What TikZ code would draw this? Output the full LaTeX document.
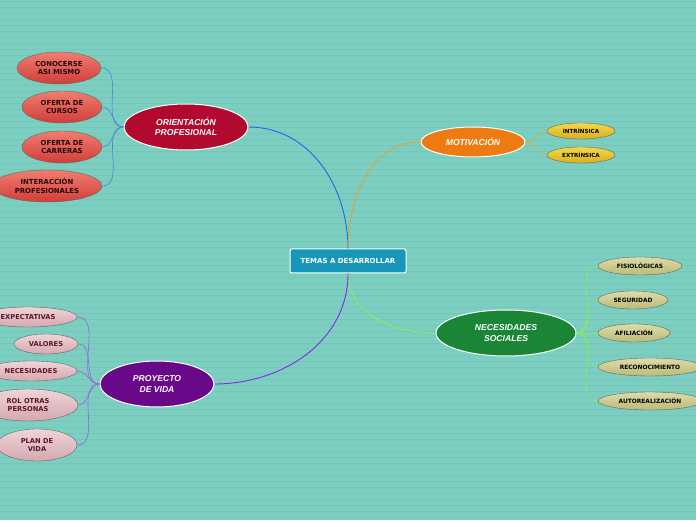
\documentclass[tikz,border=0pt]{standalone}
\usepackage{fontspec}
\setsansfont{DejaVu Sans}
\newfontfamily\arialfont{Liberation Sans}
\usetikzlibrary{shapes.geometric}

\definecolor{bgteal}{RGB}{124,206,192}
\definecolor{bgline}{RGB}{116,199,185}
\definecolor{rootfill}{RGB}{24,150,185}
\definecolor{orientfill}{RGB}{178,10,46}
\definecolor{motivfill}{RGB}{238,122,18}
\definecolor{necfill}{RGB}{26,133,53}
\definecolor{proyfill}{RGB}{106,8,138}
\definecolor{orientlink}{RGB}{34,102,238}
\definecolor{orientleaf}{RGB}{68,136,221}
\definecolor{motivlink}{RGB}{224,164,48}
\definecolor{motivleaf}{RGB}{214,176,64}
\definecolor{neclink}{RGB}{140,238,80}
\definecolor{proylink}{RGB}{136,40,230}
\definecolor{proyleaf}{RGB}{150,100,220}
\definecolor{pinktext}{RGB}{96,20,36}
\definecolor{redtext}{RGB}{40,8,8}

\tikzset{
  rootbox/.style={draw=white,line width=1pt,rounded corners=2pt,fill=rootfill,
    minimum width=116pt,minimum height=24pt,inner sep=0pt,text=white,
    font=\sffamily\bfseries\fontsize{7}{8}\selectfont},
  mainnode/.style={ellipse,draw=white,line width=1pt,inner sep=0pt,text=white,align=center,
    font=\arialfont\bfseries\itshape\fontsize{8.6}{10.2}\selectfont},
  leaf/.style={ellipse,draw=black!60,line width=0.4pt,inner sep=0pt,align=center,
    shading=axis,font=\sffamily\bfseries\fontsize{6.9}{8.8}\selectfont},
  leafred/.style={leaf,top color={rgb,255:red,240;green,125;blue,112},bottom color={rgb,255:red,208;green,62;blue,58},
    text=redtext,minimum width=80pt,minimum height=32pt},
  leafyellow/.style={leaf,top color={rgb,255:red,244;green,216;blue,72},bottom color={rgb,255:red,216;green,176;blue,32},
    minimum width=68pt,minimum height=16pt,font=\sffamily\bfseries\fontsize{5.6}{6.5}\selectfont},
  leafolive/.style={leaf,top color={rgb,255:red,220;green,220;blue,168},bottom color={rgb,255:red,186;green,186;blue,122},
    minimum height=18pt,font=\sffamily\bfseries\fontsize{5.9}{6.5}\selectfont},
  leafpink/.style={leaf,top color={rgb,255:red,238;green,212;blue,216},bottom color={rgb,255:red,212;green,168;blue,176},
    text=pinktext,minimum height=20pt,font=\sffamily\bfseries\fontsize{6.7}{8.6}\selectfont},
  link/.style={line width=0.9pt},
  twig/.style={line width=0.6pt}
}

\begin{document}
\begin{tikzpicture}[x=1pt,y=1pt]
    % background
    \useasboundingbox (0,0) rectangle (696,520);
    \clip (0,0) rectangle (696,520);
    \fill[bgteal] (0,0) rectangle (696,520);
    \foreach \y in {3,9,...,520}
        \draw[bgline,line width=0.5pt] (0,\y) -- (696,\y);

    % central topic
    \node[rootbox] (root) at (348,259) {TEMAS A DESARROLLAR};

    % main branches
    \node[mainnode,fill=orientfill,minimum width=124pt,minimum height=46pt] (orient) at (186,393) {ORIENTACIÓN\\PROFESIONAL};
    \node[mainnode,fill=motivfill,minimum width=104pt,minimum height=30pt] (motiv) at (473,378) {MOTIVACIÓN};
    \node[mainnode,fill=necfill,minimum width=140pt,minimum height=46pt] (necsoc) at (506,187) {NECESIDADES\\SOCIALES};
    \node[mainnode,fill=proyfill,minimum width=114pt,minimum height=46pt] (proyecto) at (157,136) {PROYECTO\\DE VIDA};

    \draw[link,orientlink] (root.north) to[out=90,in=0] (orient.east);
    \draw[link,motivlink] (root.north) to[out=90,in=180] (motiv.west);
    \draw[link,neclink] (root.south) to[out=-90,in=180] (necsoc.west);
    \draw[link,proylink] (root.south) to[out=-90,in=0] (proyecto.east);

    % orientacion profesional
    \node[leafred,minimum width=84pt] (conocerse) at (59,452) {CONOCERSE\\ASI MISMO};
    \node[leafred] (cursos) at (62,413) {OFERTA DE\\CURSOS};
    \node[leafred] (carreras) at (62,373) {OFERTA DE\\CARRERAS};
    \node[leafred,minimum width=110pt] (interaccion) at (47,334) {INTERACCIÓN\\PROFESIONALES};
    \foreach \leafname in {conocerse,cursos,carreras,interaccion}
        \draw[twig,orientleaf] (orient.west) to[out=180,in=0] (\leafname.east);

    % motivacion
    \node[leafyellow] (intrinsica) at (581,389) {INTRÍNSICA};
    \node[leafyellow] (extrinsica) at (581,365) {EXTRÍNSICA};
    \foreach \leafname in {intrinsica,extrinsica}
        \draw[twig,motivleaf] (motiv.east) to[out=0,in=180] (\leafname.west);

    % necesidades sociales
    \node[leafolive,minimum width=84pt] (fisio) at (640,254) {FISIOLÓGICAS};
    \node[leafolive,minimum width=70pt] (seguridad) at (633,220) {SEGURIDAD};
    \node[leafolive,minimum width=72pt] (afiliacion) at (634,187) {AFILIACIÓN};
    \node[leafolive,minimum width=104pt] (reconoc) at (650,153) {RECONOCIMIENTO};
    \node[leafolive,minimum width=104pt] (autoreal) at (650,119) {AUTOREALIZACIÓN};
    \foreach \leafname in {fisio,seguridad,afiliacion,reconoc,autoreal}
        \draw[twig,neclink] (necsoc.east) to[out=0,in=180] (\leafname.west);

    % proyecto de vida
    \node[leafpink,minimum width=98pt] (expect) at (28,203) {EXPECTATIVAS};
    \node[leafpink,minimum width=64pt] (valores) at (46,176) {VALORES};
    \node[leafpink,minimum width=92pt] (necesid) at (31,149) {NECESIDADES};
    \node[leafpink,minimum width=100pt,minimum height=32pt] (rol) at (28,115) {ROL OTRAS\\PERSONAS};
    \node[leafpink,minimum width=80pt,minimum height=32pt] (plan) at (37,75) {PLAN DE\\VIDA};
    \foreach \leafname in {expect,valores,necesid,rol,plan}
        \draw[twig,proyleaf] (proyecto.west) to[out=180,in=0] (\leafname.east);
\end{tikzpicture}
\end{document}
